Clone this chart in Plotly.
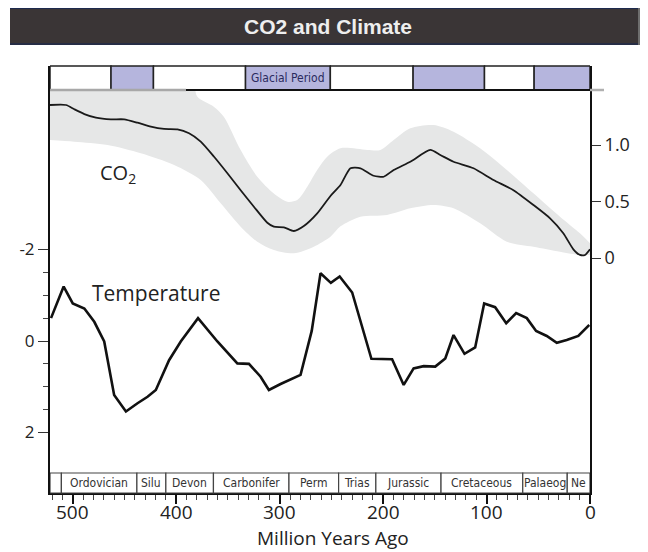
import plotly.graph_objects as go

# ---------------- data ----------------
temp_age = [521, 508.8, 500, 488.8, 479.2, 469.6, 460, 448.6, 437.4, 427.7, 419.7, 406.9, 395.6,
            378.9, 360.2, 340.9, 329.7, 318.4, 310.4, 299.1, 279.8, 269, 260.5, 250.5, 242,
            229.9, 211.3, 191.3, 180.1, 170.5, 160.8, 149.6, 139.9, 131.9, 121.3, 111, 102.3,
            91.7, 81, 71.4, 61.1, 52.1, 41.8, 32.1, 22.5, 11.3, 0.7]
temp_val = [-0.50, -1.19, -0.82, -0.71, -0.42, 0.01, 1.18, 1.54, 1.36, 1.22, 1.07, 0.42, 0.01,
            -0.50, 0.01, 0.49, 0.50, 0.78, 1.07, 0.94, 0.74, -0.22, -1.48, -1.27, -1.41,
            -1.06, 0.39, 0.40, 0.96, 0.60, 0.55, 0.56, 0.38, -0.13, 0.28, 0.14, -0.82,
            -0.74, -0.39, -0.61, -0.50, -0.22, -0.11, 0.04, -0.02, -0.11, -0.35]

co2_age = [522, 506.5, 498.5, 488.8, 477.6, 463.1, 450.3, 437.4, 424.5, 411.7, 398.8, 387.6,
           376.3, 363.4, 350.5, 337.7, 324.9, 311.9, 305.6, 295.9, 286.3, 276.6, 263.7, 250.9,
           241.2, 231.6, 221.9, 209.1, 199.4, 189.8, 173.7, 154.4, 144.7, 131.9, 112.6, 93.3,
           74, 54.7, 38.6, 25.8, 16.1, 9.7, 4.8, 0]
co2_val = [1.354, 1.354, 1.316, 1.274, 1.242, 1.227, 1.227, 1.197, 1.162, 1.142, 1.139, 1.104,
           1.03, 0.896, 0.75, 0.60, 0.454, 0.312, 0.277, 0.272, 0.239, 0.283, 0.395, 0.549,
           0.646, 0.794, 0.794, 0.728, 0.719, 0.779, 0.852, 0.956, 0.912, 0.852, 0.794, 0.69,
           0.60, 0.469, 0.351, 0.219, 0.077, 0.027, 0.027, 0.077]

band_up_age = [522, 386, 379.5, 363.7, 354, 337.7, 321.6, 305.9, 292.6, 283, 273.3, 263.7, 254,
               241.2, 215.4, 202.6, 189.8, 173.7, 151.2, 131.9, 106.2, 80.4, 54.7, 29, 9.7, 0]
band_up_val = [1.6, 1.6, 1.427, 1.339, 1.25, 0.956, 0.719, 0.573, 0.498, 0.513, 0.631, 0.779,
               0.896, 0.971, 0.956, 0.956, 1.044, 1.148, 1.177, 1.118, 0.971, 0.779, 0.573,
               0.365, 0.218, 0.13]
band_lo_age = [522, 498.5, 466.3, 434.2, 402, 376.3, 357, 337.7, 321.6, 305.6, 286.3, 267,
               250.9, 241.2, 221.9, 196.2, 173.7, 151.2, 131.9, 106.2, 80.4, 54.7, 29, 9.7, 0]
band_lo_val = [1.044, 1.029, 1.0, 0.927, 0.823, 0.69, 0.484, 0.277, 0.144, 0.071, 0.042, 0.1,
               0.188, 0.28, 0.365, 0.381, 0.44, 0.469, 0.44, 0.307, 0.144, 0.1, 0.056, 0.027,
               0.027]

glacial_edges = [522, 463, 422, 333, 251, 171, 102, 54, 0]
glacial_flags = [0, 1, 0, 1, 0, 1, 0, 1]
glacial_label = "Glacial Period"

period_edges = [522, 511, 438, 410, 364, 291, 243, 207, 144, 65, 22, 0]
period_names = ["", "Ordovician", "Silu", "Devon", "Carbonifer", "Perm", "Trias",
                "Jurassic", "Cretaceous", "Palaeog", "Ne"]

x_ticks = [500, 400, 300, 200, 100, 0]
temp_ticks = [-2, 0, 2]
temp_minor = [-1.5, -1, -0.5, 0.5, 1, 1.5]
co2_ticks = [0, 0.5, 1.0]
co2_ticklabels = ["0", "0.5", "1.0"]

# ---------------- layout geometry ----------------
# The page body adds an 8px margin; screen coords = figure coords + 8.
OFF = 8
W, H = 648 - OFF, 552 - OFF
SCR_L, SCR_R, SCR_T, SCR_B = 50, 590, 66, 493   # plot area in screen pixels
L, T = SCR_L - OFF, SCR_T - OFF
R, B = W - (SCR_R - OFF), H - (SCR_B - OFF)
PW, PH = SCR_R - SCR_L, SCR_B - SCR_T


def py(p):  # screen pixel y -> paper y
    return (SCR_B - p) / PH


def px(p):  # screen pixel x -> paper x
    return (p - SCR_L) / PW


FONT = "Open Sans, Lato, Liberation Sans, sans-serif"
NARROW = "Liberation Sans Narrow, DejaVu Sans Condensed, Liberation Sans, sans-serif"

fig = go.Figure()

fig.add_trace(go.Scatter(x=band_up_age, y=band_up_val, yaxis="y2", mode="lines",
                         line=dict(width=0, color="#e6e7e7", shape="spline", smoothing=0.8),
                         hoverinfo="skip", showlegend=False))
fig.add_trace(go.Scatter(x=band_lo_age, y=band_lo_val, yaxis="y2", mode="lines",
                         line=dict(width=0, color="#e6e7e7", shape="spline", smoothing=0.8),
                         fill="tonexty", fillcolor="#e6e7e7",
                         hoverinfo="skip", showlegend=False))
fig.add_trace(go.Scatter(x=co2_age, y=co2_val, yaxis="y2", mode="lines",
                         line=dict(width=1.8, color="#1a1a1a", shape="spline", smoothing=0.6),
                         showlegend=False))
fig.add_trace(go.Scatter(x=temp_age, y=temp_val, yaxis="y", mode="lines",
                         line=dict(width=2.6, color="#111111"),
                         showlegend=False))

shapes = []
# title bar
shapes.append(dict(type="rect", xref="paper", yref="paper", x0=px(10), x1=px(638),
                   y0=py(45), y1=py(7), fillcolor="#3a3536", line=dict(width=0), layer="below"))
shapes.append(dict(type="line", xref="paper", yref="paper", x0=px(10), x1=px(638),
                   y0=py(8), y1=py(8), line=dict(color="#1d2a4e", width=2)))
shapes.append(dict(type="line", xref="paper", yref="paper", x0=px(10), x1=px(638),
                   y0=py(44), y1=py(44), line=dict(color="#262d45", width=2)))
shapes.append(dict(type="rect", xref="paper", yref="paper", x0=px(638), x1=px(646),
                   y0=py(45), y1=py(7), fillcolor="#6e6e6e", line=dict(width=0)))

# glacial bar
gy0, gy1 = py(90), py(66)
for i in range(len(glacial_edges) - 1):
    shapes.append(dict(type="rect", xref="x", yref="paper",
                       x0=glacial_edges[i], x1=glacial_edges[i + 1], y0=gy0, y1=gy1,
                       fillcolor="#b5b5dd" if glacial_flags[i] else "white",
                       line=dict(color="#222222", width=1.5), layer="above"))
shapes.append(dict(type="line", xref="paper", yref="paper", x0=px(50), x1=px(186),
                   y0=gy0, y1=gy0, line=dict(color="#a8a8a8", width=2.5), layer="above"))
shapes.append(dict(type="line", xref="paper", yref="paper", x0=px(186), x1=px(590),
                   y0=gy0, y1=gy0, line=dict(color="#111111", width=2), layer="above"))
shapes.append(dict(type="line", xref="paper", yref="paper", x0=px(590), x1=px(604),
                   y0=gy0, y1=gy0, line=dict(color="#b0b0b0", width=2.5), layer="above"))

# geological period bar
by0, by1 = 0, py(473)
for i in range(len(period_edges) - 1):
    shapes.append(dict(type="rect", xref="x", yref="paper",
                       x0=period_edges[i], x1=period_edges[i + 1], y0=by0, y1=by1,
                       fillcolor="white", line=dict(color="#444444", width=1.2), layer="above"))

fig.update_layout(shapes=shapes)


def label(text, x, y, size, family=FONT, color="#222222", xref="paper"):
    return dict(text=text, xref=xref, yref="paper", x=x, y=y, showarrow=False,
                xanchor="center", yanchor="middle", borderpad=0,
                font=dict(family=family, size=size, color=color))


ann = []
ann.append(label("<b>CO2 and Climate</b>", px(328), py(27), 21,
                 family="Liberation Sans, Arial, sans-serif", color="#eeeeee"))
gi = 3
ann.append(label(glacial_label, (glacial_edges[gi] + glacial_edges[gi + 1]) / 2, py(78), 12,
                 family=NARROW, color="#2b2b5e", xref="x"))
for i, name in enumerate(period_names):
    if name:
        ann.append(label(name, (period_edges[i] + period_edges[i + 1]) / 2, py(483), 12,
                         family=NARROW, color="#333333", xref="x"))
# x tick labels placed just below the ticks
for t in x_ticks:
    ann.append(label(str(t), t, py(512), 19, xref="x"))
ann.append(label("CO<sub>2</sub>", px(118), py(174), 20))
ann.append(label("Temperature", px(156), py(293), 21))
ann.append(label("Million Years Ago", px(333), py(538), 19))

fig.update_layout(
    annotations=ann,
    width=W, height=H,
    margin=dict(l=L, r=R, t=T, b=B, pad=0),
    paper_bgcolor="white", plot_bgcolor="white",
    font=dict(family=FONT, color="#222222"),
    xaxis=dict(range=[522, 0], showgrid=False, zeroline=False, showline=True,
               linecolor="#111111", linewidth=2, ticks="outside", ticklen=9, tickwidth=1.5,
               tickcolor="#111111", tickvals=x_ticks, showticklabels=False,
               minor=dict(dtick=10, tick0=0, ticks="outside", ticklen=5, tickwidth=1,
                          tickcolor="#444444")),
    yaxis=dict(range=[(SCR_B - 341) / 45.75, (SCR_T - 341) / 45.75], showgrid=False,
               zeroline=False, showline=True, linecolor="#111111", linewidth=2,
               ticks="outside", ticklen=10, tickwidth=1.2, tickcolor="#333333",
               tickvals=temp_ticks, ticktext=[str(t) for t in temp_ticks],
               tickfont=dict(size=17, color="#222222"),
               minor=dict(tickvals=temp_minor, ticks="outside", ticklen=5, tickwidth=1,
                          tickcolor="#444444")),
    yaxis2=dict(range=[(258 - SCR_B) / 113, (258 - SCR_T) / 113], overlaying="y", side="right",
                showgrid=False, zeroline=False, showline=True, linecolor="#111111",
                linewidth=2, ticks="outside", ticklen=9, tickwidth=1.2, tickcolor="#333333",
                tickvals=co2_ticks, ticktext=co2_ticklabels,
                tickfont=dict(size=18, color="#222222")),
)

fig.write_html("out.html")
